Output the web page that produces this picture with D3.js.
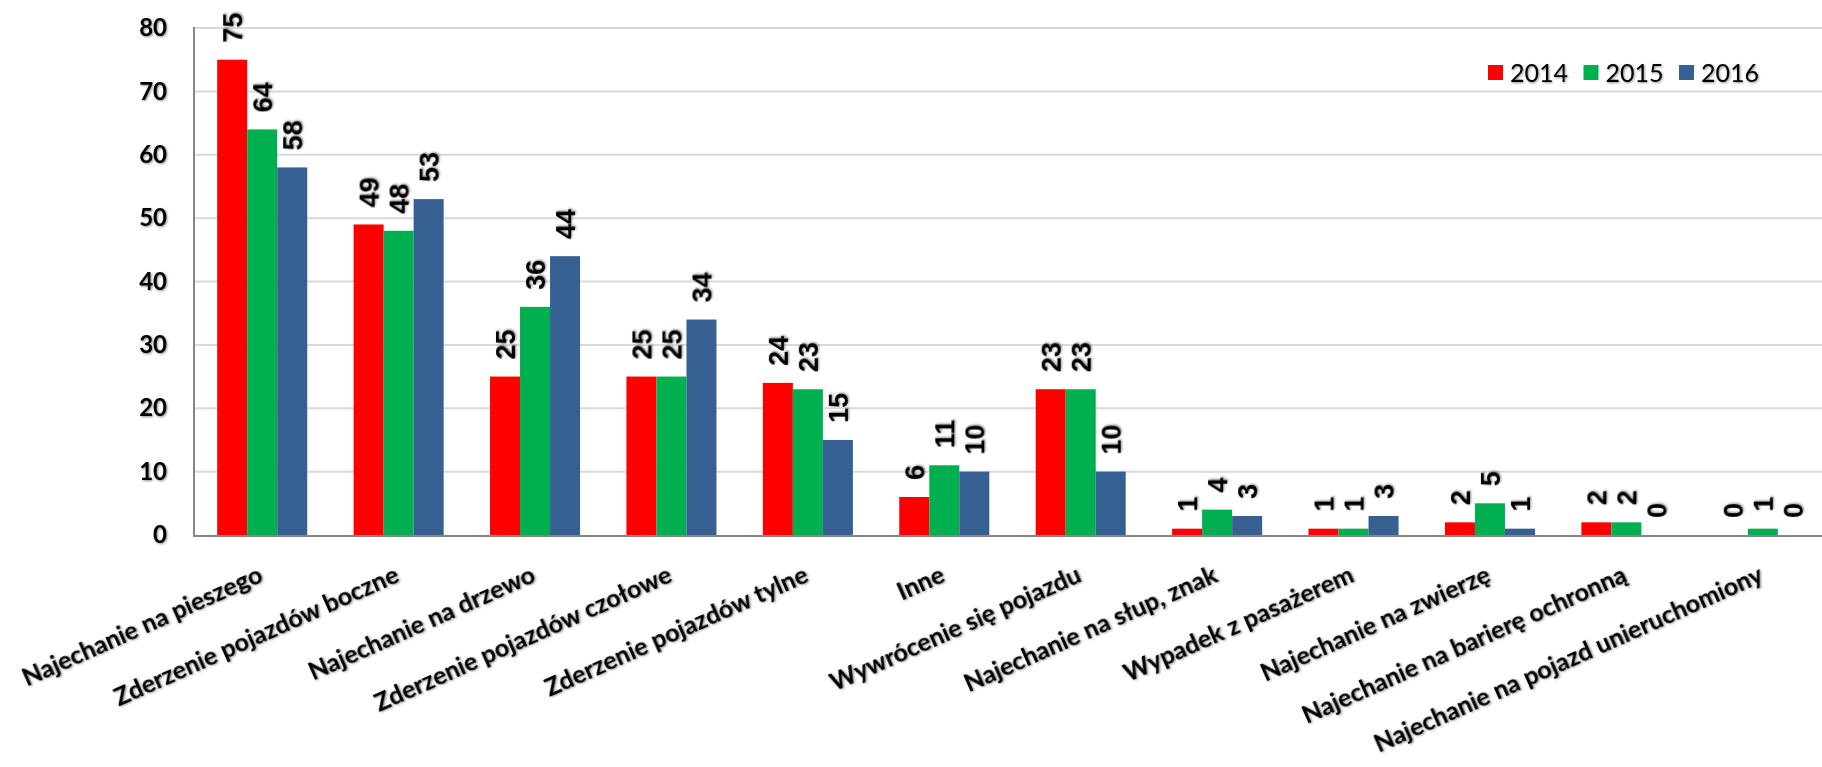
<!DOCTYPE html>
<html>
<head>
<meta charset="utf-8">
<script src="https://cdnjs.cloudflare.com/ajax/libs/d3/7.8.5/d3.min.js"></script>
<style>
  html, body { margin: 0; padding: 0; background: #fff; }
  svg { display: block; }
</style>
</head>
<body>
<svg id="chart_svg" width="1822" height="767"></svg>
<script>
var categories = [
  "Najechanie na pieszego",
  "Zderzenie pojazdów boczne",
  "Najechanie na drzewo",
  "Zderzenie pojazdów czołowe",
  "Zderzenie pojazdów tylne",
  "Inne",
  "Wywrócenie się pojazdu",
  "Najechanie na słup, znak",
  "Wypadek z pasażerem",
  "Najechanie na zwierzę",
  "Najechanie na barierę ochronną",
  "Najechanie na pojazd unieruchomiony"
];
var years = ["2014", "2015", "2016"];
var values2014 = [75, 49, 25, 25, 24, 6, 23, 1, 1, 2, 2, 0];
var values2015 = [64, 48, 36, 25, 23, 11, 23, 4, 1, 5, 2, 1];
var values2016 = [58, 53, 44, 34, 15, 10, 10, 3, 3, 1, 0, 0];
var yTicks = [0, 10, 20, 30, 40, 50, 60, 70, 80];
var colors = ["#FF0000", "#00B050", "#376092"];

var series = [values2014, values2015, values2016];

var svg = d3.select("#chart_svg");
var shadow = "drop-shadow(1px 1px 1px rgba(0,0,0,0.45))";

var plot = { left: 194, right: 1831, top: 28, bottom: 535 };

var y = d3.scaleLinear().domain([0, 80]).range([plot.bottom, plot.top]);
var x0 = d3.scaleBand().domain(categories).range([plot.left, plot.right])
  .paddingInner(0.34).paddingOuter(0.17);
var x1 = d3.scaleBand().domain(years).range([0, x0.bandwidth()]);

// gridlines
svg.append("g").selectAll("line").data(yTicks.filter(function(d){ return d > 0; }))
  .enter().append("line")
  .attr("x1", plot.left).attr("x2", plot.right)
  .attr("y1", function(d){ return y(d); })
  .attr("y2", function(d){ return y(d); })
  .style("stroke", "#D9D9D9").style("stroke-width", 2);

// y axis labels
var yAxis = d3.axisLeft(y).tickValues(yTicks).tickSize(0).tickPadding(27);
var gy = svg.append("g").attr("transform", "translate(" + plot.left + ",0)").call(yAxis);
gy.select(".domain").remove();
gy.selectAll("text")
  .style("font-family", "Lato, sans-serif")
  .style("font-weight", "bold")
  .style("font-size", "24px")
  .style("fill", "#000")
  .style("filter", shadow);

// bars
function rowOf(i){
  return series.map(function(s, k){ return { year: years[k], value: s[i], k: k }; });
}

var groups = svg.append("g").selectAll("g").data(categories).enter().append("g")
  .attr("transform", function(d){ return "translate(" + x0(d) + ",0)"; });

groups.selectAll("rect")
  .data(function(d, i){ return rowOf(i); })
  .enter().append("rect")
  .attr("x", function(d){ return x1(d.year); })
  .attr("y", function(d){ return y(d.value); })
  .attr("width", x1.bandwidth())
  .attr("height", function(d){ return y(0) - y(d.value); })
  .style("fill", function(d){ return colors[d.k]; });

// value labels
groups.selectAll("text")
  .data(function(d, i){ return rowOf(i); })
  .enter().append("text")
  .attr("transform", function(d){
    var cx = x1(d.year) + x1.bandwidth() / 2;
    return "translate(" + cx + "," + (y(d.value) - 17) + ") rotate(-90)";
  })
  .attr("dy", "0.36em")
  .attr("text-anchor", "start")
  .style("font-family", "'Liberation Sans', Arial, sans-serif")
  .style("font-weight", "bold")
  .style("font-size", "27px")
  .style("fill", "#000")
  .style("filter", shadow)
  .text(function(d){ return d.value; });

// axis lines
svg.append("line").attr("x1", plot.left).attr("x2", plot.left)
  .attr("y1", plot.top - 1).attr("y2", plot.bottom + 1)
  .style("stroke", "#868686").style("stroke-width", 2);
svg.append("line").attr("x1", plot.left - 1).attr("x2", plot.right)
  .attr("y1", plot.bottom + 1).attr("y2", plot.bottom + 1)
  .style("stroke", "#868686").style("stroke-width", 2);

// category labels
svg.append("g").selectAll("text").data(categories).enter().append("text")
  .attr("transform", function(d){
    return "translate(" + (x0(d) + x0.bandwidth() / 2 + 2) + ",581) rotate(-24)";
  })
  .attr("text-anchor", "end")
  .style("font-family", "Lato, sans-serif")
  .style("font-weight", "bold")
  .style("font-size", "25px")
  .style("fill", "#000")
  .style("filter", shadow)
  .text(function(d){ return d; });

// legend
var legend = svg.append("g").attr("transform", "translate(1488,65)");
var legendItems = legend.selectAll("g").data(years).enter().append("g")
  .attr("transform", function(d, i){ return "translate(" + (i * 95.5) + ",0)"; });
legendItems.append("rect").attr("width", 15).attr("height", 15)
  .style("fill", function(d, i){ return colors[i]; });
legendItems.append("text").attr("x", 22).attr("y", 8).attr("dy", "0.36em")
  .style("font-family", "Lato, sans-serif")
  .style("font-size", "25px")
  .style("fill", "#000")
  .style("filter", shadow)
  .text(function(d){ return d; });
</script>
</body>
</html>
